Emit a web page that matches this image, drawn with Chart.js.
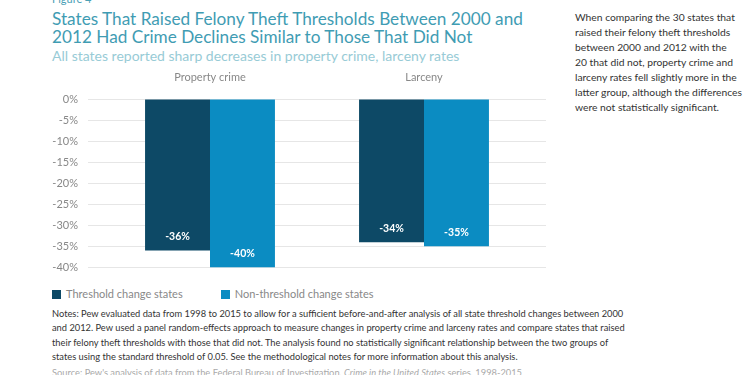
<!DOCTYPE html>
<html>
<head>
<meta charset="utf-8">
<script src="https://cdn.jsdelivr.net/npm/chart.js@4"></script>
<style>
  body { margin: 0; width: 750px; height: 375px; overflow: hidden; background: #fff; font-family: Lato, "Open Sans", sans-serif; position: relative; }
  .fig { position: absolute; left: 52px; top: -8px; font-size: 11px; color: #4aa0b5; }
  .title { position: absolute; left: 52px; top: 10px; font-size: 17.2px; line-height: 18px; color: #3f9cb3; white-space: nowrap; }
  .sub { position: absolute; left: 52px; top: 47px; font-size: 14px; color: #98cbd6; white-space: nowrap; }
  .side { position: absolute; left: 575px; top: 10px; font-size: 10.3px; line-height: 15px; color: #333; white-space: nowrap; }
  #chartBox { position: absolute; left: 0; top: 70px; width: 546px; height: 214px; }
  .legend { position: absolute; left: 52px; top: 287px; font-size: 11px; color: #888; white-space: nowrap; }
  .legend span.item { display: inline-block; margin-right: 38px; }
  .legend i { display: inline-block; width: 9px; height: 9px; margin-right: 5px; vertical-align: -1px; }
  .notes { position: absolute; left: 52px; top: 307px; font-size: 9.3px; line-height: 14.3px; color: #333; white-space: nowrap; }
  .source { position: absolute; left: 52px; top: 367px; font-size: 9.3px; color: #aaa; white-space: nowrap; }
</style>
</head>
<body>
<div class="fig">Figure 4</div>
<div class="title">States That Raised Felony Theft Thresholds Between 2000 and<br>2012 Had Crime Declines Similar to Those That Did Not</div>
<div class="sub">All states reported sharp decreases in property crime, larceny rates</div>
<div class="side">When comparing the 30 states that<br>raised their felony theft thresholds<br>between 2000 and 2012 with the<br>20 that did not, property crime and<br>larceny rates fell slightly more in the<br>latter group, although the differences<br>were not statistically significant.</div>
<div id="chartBox"><canvas id="myChart"></canvas></div>
<div class="legend" id="legend"></div>
<div class="notes">Notes: Pew evaluated data from 1998 to 2015 to allow for a sufficient before-and-after analysis of all state threshold changes between 2000<br>and 2012. Pew used a panel random-effects approach to measure changes in property crime and larceny rates and compare states that raised<br>their felony theft thresholds with those that did not. The analysis found no statistically significant relationship between the two groups of<br>states using the standard threshold of 0.05. See the methodological notes for more information about this analysis.</div>
<div class="source">Source: Pew's analysis of data from the Federal Bureau of Investigation, <i>Crime in the United States</i> series, 1998-2015</div>
<script>
// valores
var categories = ['Property crime', 'Larceny'];
var seriesNames = ['Threshold change states', 'Non-threshold change states'];
var thresholdValues = [-36, -34];
var nonThresholdValues = [-40, -35];
var seriesColors = ['#0d4966', '#0b8cc2'];
var yTicks = [0, -5, -10, -15, -20, -25, -30, -35, -40];

var canvas = document.getElementById('myChart');
var ctx = canvas.getContext('2d');

// etiquetas blancas dentro de cada barra
var barLabels = {
    id: 'barLabels',
    afterDatasetsDraw: function (chart) {
        var c = chart.ctx;
        c.save();
        c.fillStyle = '#fff';
        c.font = 'bold 10.5px Lato, sans-serif';
        c.textAlign = 'center';
        c.textBaseline = 'middle';
        chart.data.datasets.forEach(function (ds, i) {
            chart.getDatasetMeta(i).data.forEach(function (bar, j) {
                c.fillText(ds.data[j] + '%', bar.x, bar.y - 14);
            });
        });
        c.restore();
    }
};

var config = {
    type: 'bar',
    data: {
        labels: categories,
        datasets: [{
            label: seriesNames[0],
            data: thresholdValues,
            backgroundColor: seriesColors[0],
            categoryPercentage: 0.607,
            barPercentage: 1
        }, {
            label: seriesNames[1],
            data: nonThresholdValues,
            backgroundColor: seriesColors[1],
            categoryPercentage: 0.607,
            barPercentage: 1
        }]
    },
    options: {
        responsive: true,
        maintainAspectRatio: false,
        animation: false,
        layout: { padding: { bottom: 13, top: 0, left: 0, right: 0 } },
        scales: {
            x: {
                position: 'top',
                grid: { display: false },
                border: { display: false },
                ticks: { color: '#888', font: { family: 'Lato', size: 11 }, padding: 7 },
                afterFit: function (scale) { scale.height = 29; }
            },
            y: {
                min: -40,
                max: 0,
                afterBuildTicks: function (scale) {
                    scale.ticks = yTicks.map(function (v) { return { value: v }; });
                },
                grid: { color: '#e6e6e6', tickLength: 15, tickColor: '#e6e6e6' },
                border: { display: false },
                ticks: {
                    color: '#888',
                    font: { family: 'Lato', size: 11 },
                    padding: 10,
                    callback: function (v) { return v + '%'; }
                },
                afterFit: function (scale) { scale.width = 103; }
            },
            y2: {
                position: 'right',
                min: -40,
                max: 0,
                afterBuildTicks: function (scale) {
                    scale.ticks = yTicks.map(function (v) { return { value: v }; });
                },
                grid: { drawOnChartArea: false, tickLength: 15, tickColor: '#e6e6e6' },
                border: { display: false },
                ticks: { display: false },
                afterFit: function (scale) { scale.width = 15; }
            }
        },
        plugins: {
            legend: { display: false },
            tooltip: { enabled: false }
        }
    },
    plugins: [barLabels]
};
var chart = new Chart(ctx, config);

// leyenda en html
var legend = document.getElementById('legend');
chart.data.datasets.forEach(function (ds) {
    var item = document.createElement('span');
    item.className = 'item';
    item.innerHTML = '<i style="background:' + ds.backgroundColor + '"></i>' + ds.label;
    legend.appendChild(item);
});
</script>
</body>
</html>
